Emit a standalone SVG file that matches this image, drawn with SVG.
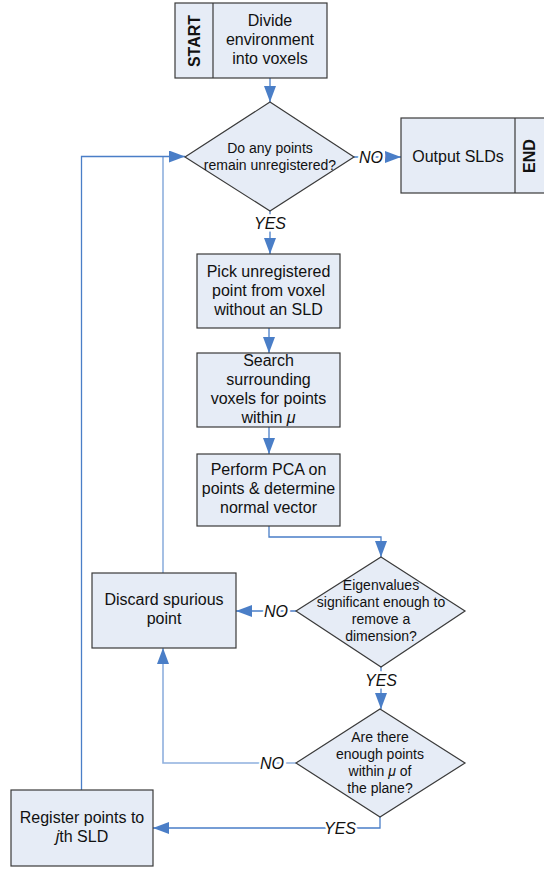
<svg xmlns="http://www.w3.org/2000/svg" width="544" height="869" viewBox="0 0 544 869">
<style>
.box{fill:#E6ECF6;stroke:#3A3A3A;stroke-width:1.2}
.t{font-family:"Liberation Sans",Arial,sans-serif;font-size:16px;fill:#111;text-anchor:middle}
.d{font-size:14px}
.b{font-weight:bold}
.lbl{font-family:"Liberation Sans",Arial,sans-serif;font-size:16px;font-style:italic;fill:#111;text-anchor:middle;stroke:#fff;stroke-width:5;paint-order:stroke}
.c{fill:none;stroke:#4A7EC7;stroke-width:1.3}
.cl{fill:none;stroke:#8FB0DE;stroke-width:1.6}
</style>
<defs>
<marker id="ah" markerWidth="16" markerHeight="12" refX="16" refY="6" orient="auto" markerUnits="userSpaceOnUse">
<path d="M0,0 L16,6 L0,12 Z" fill="#4A7EC7"/>
</marker>
</defs>
<rect width="544" height="869" fill="#fff"/>
<g id="connectors">
<path class="c" d="M270,78 V102" marker-end="url(#ah)"/>
<path class="c" d="M354,157 H401" marker-end="url(#ah)"/>
<path class="c" d="M270,211 V254" marker-end="url(#ah)"/>
<path class="c" d="M269,328 V353" marker-end="url(#ah)"/>
<path class="c" d="M269,427 V454" marker-end="url(#ah)"/>
<path class="c" d="M269,526 V537 H381 V557" marker-end="url(#ah)"/>
<path class="c" d="M296,611 H236" marker-end="url(#ah)"/>
<path class="c" d="M381,667 V709" marker-end="url(#ah)"/>
<path class="cl" d="M296,763 H163 V648" marker-end="url(#ah)"/>
<path class="c" d="M380,817 V828 H153" marker-end="url(#ah)"/>
<path class="cl" d="M163,573 V157"/>
<path class="c" d="M81.5,790 V156.5 H185" marker-end="url(#ah)"/>
<text class="lbl" x="371" y="163">NO</text>
<text class="lbl" x="270" y="229">YES</text>
<text class="lbl" x="276" y="617">NO</text>
<text class="lbl" x="381" y="686">YES</text>
<text class="lbl" x="272" y="769">NO</text>
<text class="lbl" x="340" y="834">YES</text>
</g>
<g id="start">
<rect class="box" x="175" y="3" width="152" height="75"/>
<line x1="213" y1="3" x2="213" y2="78" stroke="#3A3A3A" stroke-width="1.2"/>
<text class="t b" transform="translate(200,41) rotate(-90)">START</text>
<text class="t" x="270" y="26">Divide</text>
<text class="t" x="270" y="45">environment</text>
<text class="t" x="270" y="64">into voxels</text>
</g>
<g id="decision1">
<polygon class="box" points="270,102 354,157 270,211 185,157"/>
<text class="t d" x="270" y="153">Do any points</text>
<text class="t d" x="270" y="170">remain unregistered?</text>
</g>
<g id="output">
<rect class="box" x="401" y="118" width="150" height="75"/>
<line x1="515" y1="118" x2="515" y2="193" stroke="#3A3A3A" stroke-width="1.2"/>
<text class="t" x="458" y="162">Output SLDs</text>
<text class="t b" transform="translate(535,156) rotate(-90)">END</text>
</g>
<g id="pick">
<rect class="box" x="197" y="254" width="143" height="74"/>
<text class="t" x="268.5" y="277">Pick unregistered</text>
<text class="t" x="268.5" y="296">point from voxel</text>
<text class="t" x="268.5" y="315">without an SLD</text>
</g>
<g id="search">
<rect class="box" x="197" y="353" width="143" height="74"/>
<text class="t" x="268.5" y="366">Search</text>
<text class="t" x="268.5" y="385">surrounding</text>
<text class="t" x="268.5" y="404">voxels for points</text>
<text class="t" x="268.5" y="423">within <tspan font-style="italic">μ</tspan></text>
</g>
<g id="pca">
<rect class="box" x="197" y="454" width="143" height="72"/>
<text class="t" x="268.5" y="475">Perform PCA on</text>
<text class="t" x="268.5" y="494">points &amp; determine</text>
<text class="t" x="268.5" y="513">normal vector</text>
</g>
<g id="decision2">
<polygon class="box" points="381,557 465,611 381,667 296,611"/>
<text class="t d" x="381" y="590">Eigenvalues</text>
<text class="t d" x="381" y="607">significant enough to</text>
<text class="t d" x="381" y="624">remove a</text>
<text class="t d" x="381" y="641">dimension?</text>
</g>
<g id="discard">
<rect class="box" x="92" y="573" width="144" height="75"/>
<text class="t" x="164" y="605">Discard spurious</text>
<text class="t" x="164" y="624">point</text>
</g>
<g id="decision3">
<polygon class="box" points="380,709 465,763 380,817 296,763"/>
<text class="t d" x="380" y="742">Are there</text>
<text class="t d" x="380" y="759">enough points</text>
<text class="t d" x="380" y="776">within <tspan font-style="italic">μ</tspan> of</text>
<text class="t d" x="380" y="793">the plane?</text>
</g>
<g id="register">
<rect class="box" x="11" y="790" width="142" height="76"/>
<text class="t" x="82" y="823">Register points to</text>
<text class="t" x="82" y="842"><tspan font-style="italic">j</tspan>th SLD</text>
</g>
</svg>
